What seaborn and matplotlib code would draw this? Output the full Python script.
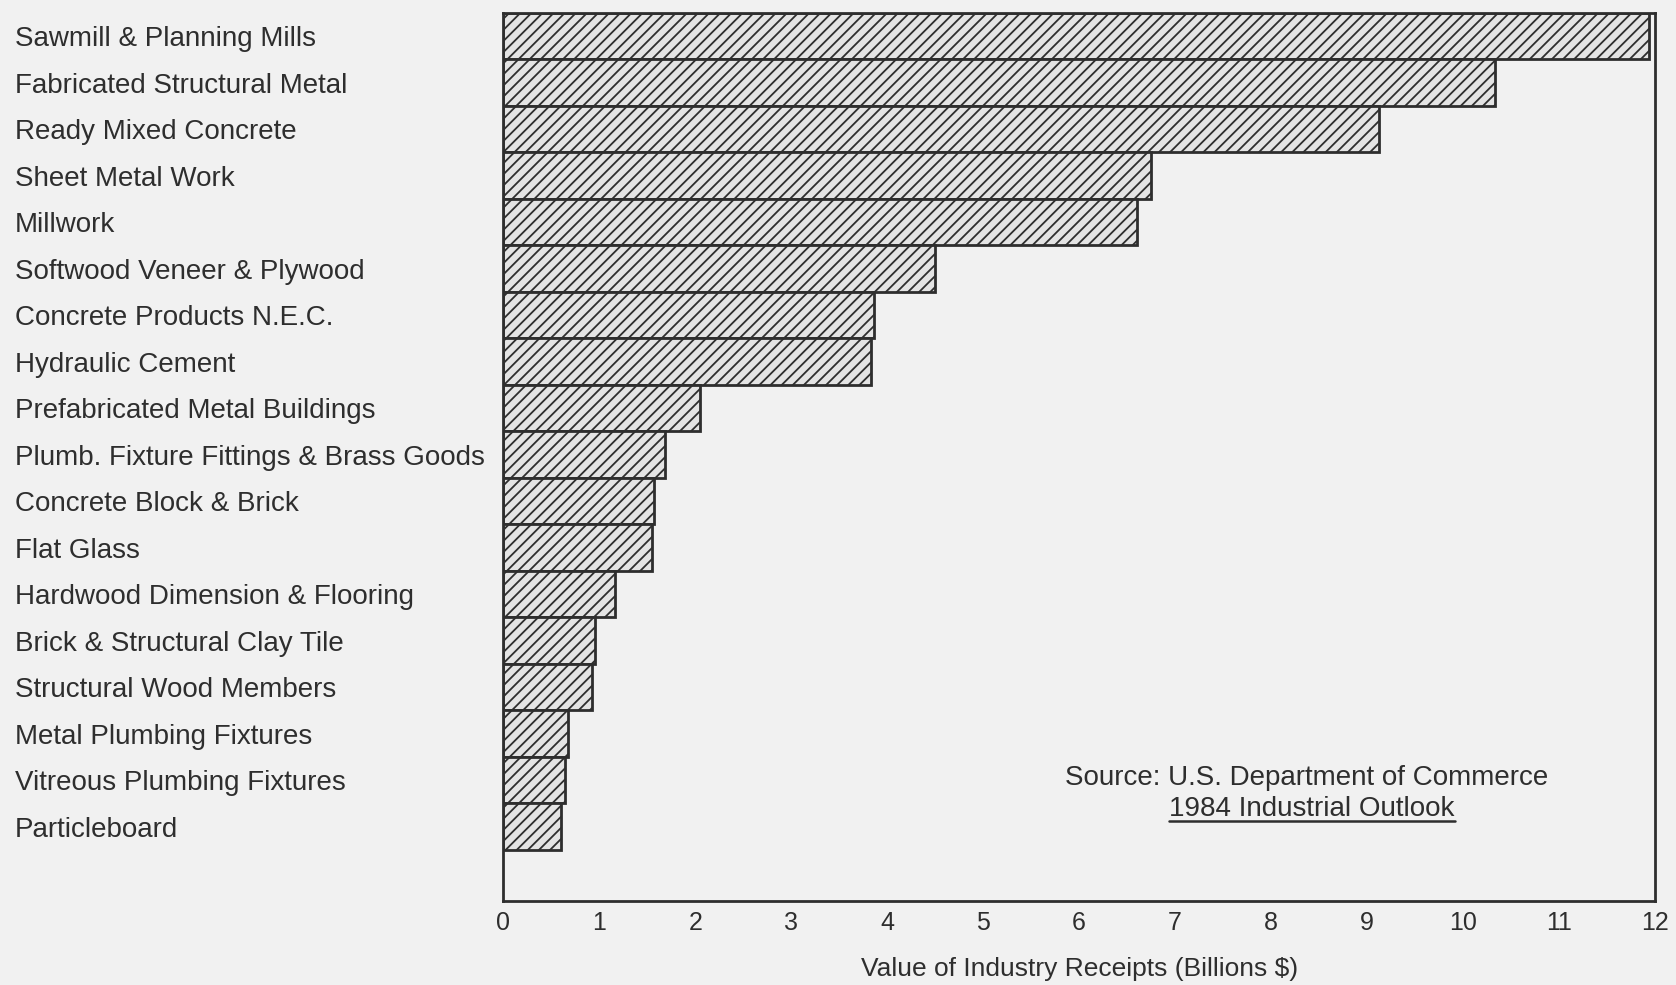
import matplotlib
matplotlib.use("Agg")
import matplotlib.pyplot as plt
import seaborn as sns
import pandas as pd

industries = [
    "Sawmill & Planning Mills",
    "Fabricated Structural Metal",
    "Ready Mixed Concrete",
    "Sheet Metal Work",
    "Millwork",
    "Softwood Veneer & Plywood",
    "Concrete Products N.E.C.",
    "Hydraulic Cement",
    "Prefabricated Metal Buildings",
    "Plumb. Fixture Fittings & Brass Goods",
    "Concrete Block & Brick",
    "Flat Glass",
    "Hardwood Dimension & Flooring",
    "Brick & Structural Clay Tile",
    "Structural Wood Members",
    "Metal Plumbing Fixtures",
    "Vitreous Plumbing Fixtures",
    "Particleboard",
]
receipts = [11.94, 10.34, 9.13, 6.75, 6.60, 4.50, 3.86, 3.83, 2.05,
            1.68, 1.57, 1.55, 1.16, 0.95, 0.92, 0.67, 0.64, 0.60]

df = pd.DataFrame({"industry": industries, "receipts": receipts})

bg = "#f1f1f1"
ink = "#2e2e2e"

sns.set_style("white")
plt.rcParams["font.family"] = ["Liberation Sans", "DejaVu Sans"]
plt.rcParams["hatch.linewidth"] = 1.3
plt.rcParams["hatch.color"] = ink

fig = plt.figure(figsize=(16.76, 9.85), dpi=100, facecolor=bg)
ax = fig.add_axes([0.3004, 0.0853, 0.6869, 0.9017])
ax.set_facecolor(bg)

sns.barplot(data=df, x="receipts", y="industry", orient="h", width=1.0,
            color="#e4e4e4", edgecolor=ink, linewidth=2.0, saturation=1, ax=ax)
for bar in ax.patches:
    bar.set_hatch("///")

ax.set_xlim(0, 12)
ax.set_ylim(18.6, -0.5)

for side in ["left", "right", "bottom", "top"]:
    ax.spines[side].set_visible(True)
    ax.spines[side].set_color(ink)
    ax.spines[side].set_linewidth(2.0)

# x axis: long ticks on even numbers, short on odd, all labelled
ax.set_xticks(range(0, 13, 2), labels=[str(v) for v in range(0, 13, 2)])
ax.set_xticks(range(1, 13, 2), labels=[str(v) for v in range(1, 13, 2)], minor=True)
ax.tick_params(axis="x", which="major", direction="in", length=12, width=1.8,
               color=ink, labelcolor=ink, labelsize=18, pad=7)
ax.tick_params(axis="x", which="minor", direction="in", length=7, width=1.5,
               color=ink, labelcolor=ink, labelsize=18, pad=7)

# category labels flush left at the figure edge
ax.tick_params(axis="y", length=0, labelsize=20, labelcolor=ink, pad=352)
for lab in ax.get_yticklabels():
    lab.set_horizontalalignment("left")

ax.set_ylabel("")
ax.set_xlabel("Value of Industry Receipts (Billions $)", fontsize=19,
              color=ink, labelpad=16)

ax.text(8.37, 15.95, "Source: U.S. Department of Commerce", fontsize=20,
        color=ink, ha="center", va="center")
t = ax.text(8.43, 16.62, "1984 Industrial Outlook", fontsize=20,
            color=ink, ha="center", va="center")

# underline the publication title
fig.canvas.draw()
bb = t.get_window_extent().transformed(ax.transData.inverted())
y_line = max(bb.y0, bb.y1) - 0.03
ax.plot([bb.x0, bb.x1], [y_line, y_line], color=ink, lw=1.8)

fig.savefig("out.png", dpi=100, facecolor=bg)
